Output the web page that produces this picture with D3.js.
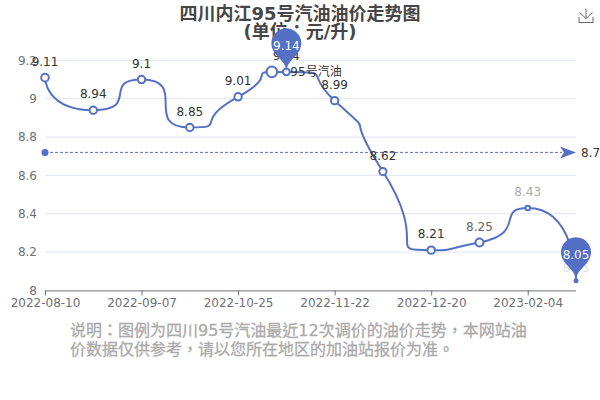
<!DOCTYPE html>
<html>
<head>
<meta charset="utf-8">
<script src="https://cdnjs.cloudflare.com/ajax/libs/d3/7.8.5/d3.min.js"></script>
<style>
html, body { margin: 0; padding: 0; background: #fff; overflow: hidden; }
svg { display: block; font-family: "DejaVu Sans", "Noto Sans CJK TC", sans-serif; }
</style>
</head>
<body>
<svg width="600" height="400"></svg>
<script>
// unlabelled dates are estimates, only every other one is shown on the axis
const dates = ["2022-08-10", "2022-08-24", "2022-09-07", "2022-09-21", "2022-10-25", "2022-11-08",
               "2022-11-22", "2022-12-05", "2022-12-20", "2023-01-03", "2023-02-04", "2023-02-17"];
const prices = [9.11, 8.94, 9.1, 8.85, 9.01, 9.14, 8.99, 8.62, 8.21, 8.25, 8.43, 8.05];
const yTicks = [8, 8.2, 8.4, 8.6, 8.8, 9, 9.2];
const labelColors = ["#333", "#333", "#333", "#333", "#333", "#333", "#333", "#333", "#333", "#666", "#aaa", "#ddd"];
const symbolSizes = [3.8, 3.7, 3.7, 3.7, 3.7, 3.4, 3.7, 3.6, 3.7, 4, 2.3, 1.5];
const average = 8.72;
const pinIndexes = [5, 11];
const hoverIndex = 4.7;
const hoverValue = 9.14;
const seriesName = "95号汽油";
const titleLines = ["四川内江95号汽油油价走势图", "(单位：元/升)"];
const noteLines = ["说明：图例为四川95号汽油最近12次调价的油价走势，本网站油", "价数据仅供参考，请以您所在地区的加油站报价为准。"];

const blue = "#5470c6";
const svg = d3.select("svg");

const x = d3.scaleLinear().domain([0, dates.length - 1]).range([45, 576]);
const y = d3.scaleLinear().domain([8, 9.2]).range([290.4, 60.4]);

// same control point logic as echarts smooth lines, d3.curve* has no equivalent
function smoothPath(pts, smooth) {
  const p = d3.path();
  p.moveTo(pts[0][0], pts[0][1]);
  let cx0 = pts[0][0], cy0 = pts[0][1];
  const clamp = (v, a, b) => Math.max(Math.min(a, b), Math.min(v, Math.max(a, b)));
  for (let i = 1; i < pts.length; i++) {
    const [px, py] = pts[i - 1], [cx, cy] = pts[i];
    if (i === pts.length - 1) {
      p.bezierCurveTo(cx0, cy0, cx, cy, cx, cy);
      break;
    }
    const [nx, ny] = pts[i + 1];
    const lenPrev = Math.hypot(cx - px, cy - py), lenNext = Math.hypot(nx - cx, ny - cy);
    const ratio = lenNext / (lenNext + lenPrev);
    let vx = nx - px, vy = ny - py;
    let nextX = clamp(cx + vx * smooth * ratio, cx, nx);
    let nextY = clamp(cy + vy * smooth * ratio, cy, ny);
    vx = nextX - cx; vy = nextY - cy;
    let c1x = clamp(cx - vx * lenPrev / lenNext, px, cx);
    let c1y = clamp(cy - vy * lenPrev / lenNext, py, cy);
    vx = cx - c1x; vy = cy - c1y;
    nextX = cx + vx * lenNext / lenPrev;
    nextY = cy + vy * lenNext / lenPrev;
    p.bezierCurveTo(cx0, cy0, c1x, c1y, cx, cy);
    cx0 = nextX; cy0 = nextY;
  }
  return p.toString();
}

function pinPath(px, py) {
  const w = 30, h = 50, r = w / 2;
  const dy = r * r / (h - r), cy = py - h + r + dy;
  const ang = Math.asin(dy / r), dx = Math.cos(ang) * r;
  const tanX = Math.sin(ang), tanY = Math.cos(ang);
  const c1 = r * 0.6, c2 = r * 0.7;
  const p = d3.path();
  p.moveTo(px - dx, cy + dy);
  p.arc(px, cy, r, Math.PI - ang, Math.PI * 2 + ang);
  p.bezierCurveTo(px + dx - tanX * c1, cy + dy + tanY * c1, px, py - c2, px, py);
  p.bezierCurveTo(px, py - c2, px - dx + tanX * c1, cy + dy + tanY * c1, px - dx, cy + dy);
  p.closePath();
  return p.toString();
}

// ---- grid and axes ----
svg.append("g").selectAll("line")
  .data(yTicks.filter(d => d !== 8))
  .join("line")
  .attr("x1", x.range()[0]).attr("x2", x.range()[1])
  .attr("y1", d => y(d)).attr("y2", d => y(d))
  .attr("stroke", "#E0E6F1");

svg.append("g").selectAll("text")
  .data(yTicks)
  .join("text")
  .attr("x", 37)
  .attr("y", d => y(d))
  .attr("dy", "0.35em")
  .attr("text-anchor", "end")
  .attr("font-size", 12)
  .attr("fill", "#6E7079")
  .text(d => d);

const xAxis = d3.axisBottom(x)
  .tickValues(d3.range(0, dates.length, 2))
  .tickFormat(i => dates[i])
  .tickSize(5)
  .tickPadding(3);

const axisG = svg.append("g")
  .attr("transform", `translate(0,${y(8)})`)
  .call(xAxis);
axisG.select(".domain").attr("stroke", "#6E7079").attr("d", `M${x.range()[0]},0.5H${x.range()[1]}`);
axisG.selectAll(".tick line").attr("stroke", "#6E7079");
axisG.selectAll(".tick text").attr("fill", "#6E7079").attr("font-size", 12);
axisG.attr("font-family", null).attr("font-size", null);

// ---- average line ----
svg.append("line")
  .attr("x1", x.range()[0]).attr("x2", x.range()[1] - 14)
  .attr("y1", y(average)).attr("y2", y(average))
  .attr("stroke", blue)
  .attr("stroke-dasharray", "3,2");
svg.append("circle")
  .attr("cx", x.range()[0]).attr("cy", y(average)).attr("r", 3.5)
  .attr("fill", blue);
const tipX = x.range()[1], tipY = y(average);
svg.append("path")
  .attr("d", `M${tipX},${tipY}L${tipX - 16},${tipY + 6}L${tipX - 12},${tipY}L${tipX - 16},${tipY - 6}Z`)
  .attr("fill", blue);
svg.append("text")
  .attr("x", tipX + 5).attr("y", tipY)
  .attr("dy", "0.35em")
  .attr("font-size", 12)
  .attr("fill", "#333")
  .text(average);

// ---- price line ----
const pts = prices.map((d, i) => [x(i), y(d)]);
svg.append("path")
  .attr("d", smoothPath(pts, 1))
  .attr("fill", "none")
  .attr("stroke", blue)
  .attr("stroke-width", 2);

svg.append("circle")
  .attr("cx", x(hoverIndex)).attr("cy", y(hoverValue)).attr("r", 5.3)
  .attr("fill", "#fff").attr("stroke", blue).attr("stroke-width", 2);

svg.append("g").selectAll("circle")
  .data(prices)
  .join("circle")
  .attr("cx", (d, i) => x(i))
  .attr("cy", d => y(d))
  .attr("r", (d, i) => symbolSizes[i])
  .attr("fill", (d, i) => i === prices.length - 1 ? blue : "#fff")
  .attr("stroke", blue)
  .attr("stroke-width", 2);

// the last label sits closer to its point, its symbol has barely grown yet
svg.append("g").selectAll("text")
  .data(prices)
  .join("text")
  .attr("x", (d, i) => x(i))
  .attr("y", (d, i) => y(d) - (i === prices.length - 1 ? 13 : 16))
  .attr("dy", "0.35em")
  .attr("text-anchor", "middle")
  .attr("font-size", 12)
  .attr("fill", (d, i) => labelColors[i])
  .text(d => d);

svg.append("text")
  .attr("x", x(5) + 4).attr("y", y(prices[5]))
  .attr("dy", "0.35em")
  .attr("font-size", 12)
  .attr("fill", "#333")
  .text(seriesName);

// ---- title, drawn before the pins so the pin sits on top ----
svg.append("g").selectAll("text")
  .data(titleLines)
  .join("text")
  .attr("x", 300)
  .attr("y", (d, i) => 14 + i * 18)
  .attr("dy", "0.35em")
  .attr("text-anchor", "middle")
  .attr("font-size", 18)
  .attr("font-weight", "bold")
  .attr("fill", "#464646")
  .text(d => d);

// ---- max and min pins ----
const pins = svg.append("g").selectAll("g")
  .data(pinIndexes)
  .join("g");
pins.append("path")
  .attr("d", i => pinPath(x(i), y(prices[i])))
  .attr("fill", blue);
pins.append("text")
  .attr("x", i => x(i))
  .attr("y", i => y(prices[i]) - 26)
  .attr("dy", "0.35em")
  .attr("text-anchor", "middle")
  .attr("font-size", 12)
  .attr("fill", "#fff")
  .text(i => prices[i]);

// ---- note under the chart ----
svg.append("g").selectAll("text")
  .data(noteLines)
  .join("text")
  .attr("x", 70)
  .attr("y", (d, i) => 330 + i * 19)
  .attr("dy", "0.35em")
  .attr("font-size", 16)
  .attr("fill", "#aaa")
  .attr("stroke", "#aaa")
  .attr("stroke-width", 0.3)
  .text(d => d);

// ---- save icon ----
svg.append("path")
  .attr("d", "M586,8.5V18.5M586,18.5L579.5,12.5M586,18.5L592.5,12.5M579,17V22.5H593V17")
  .attr("fill", "none")
  .attr("stroke", "#666");
</script>
</body>
</html>
